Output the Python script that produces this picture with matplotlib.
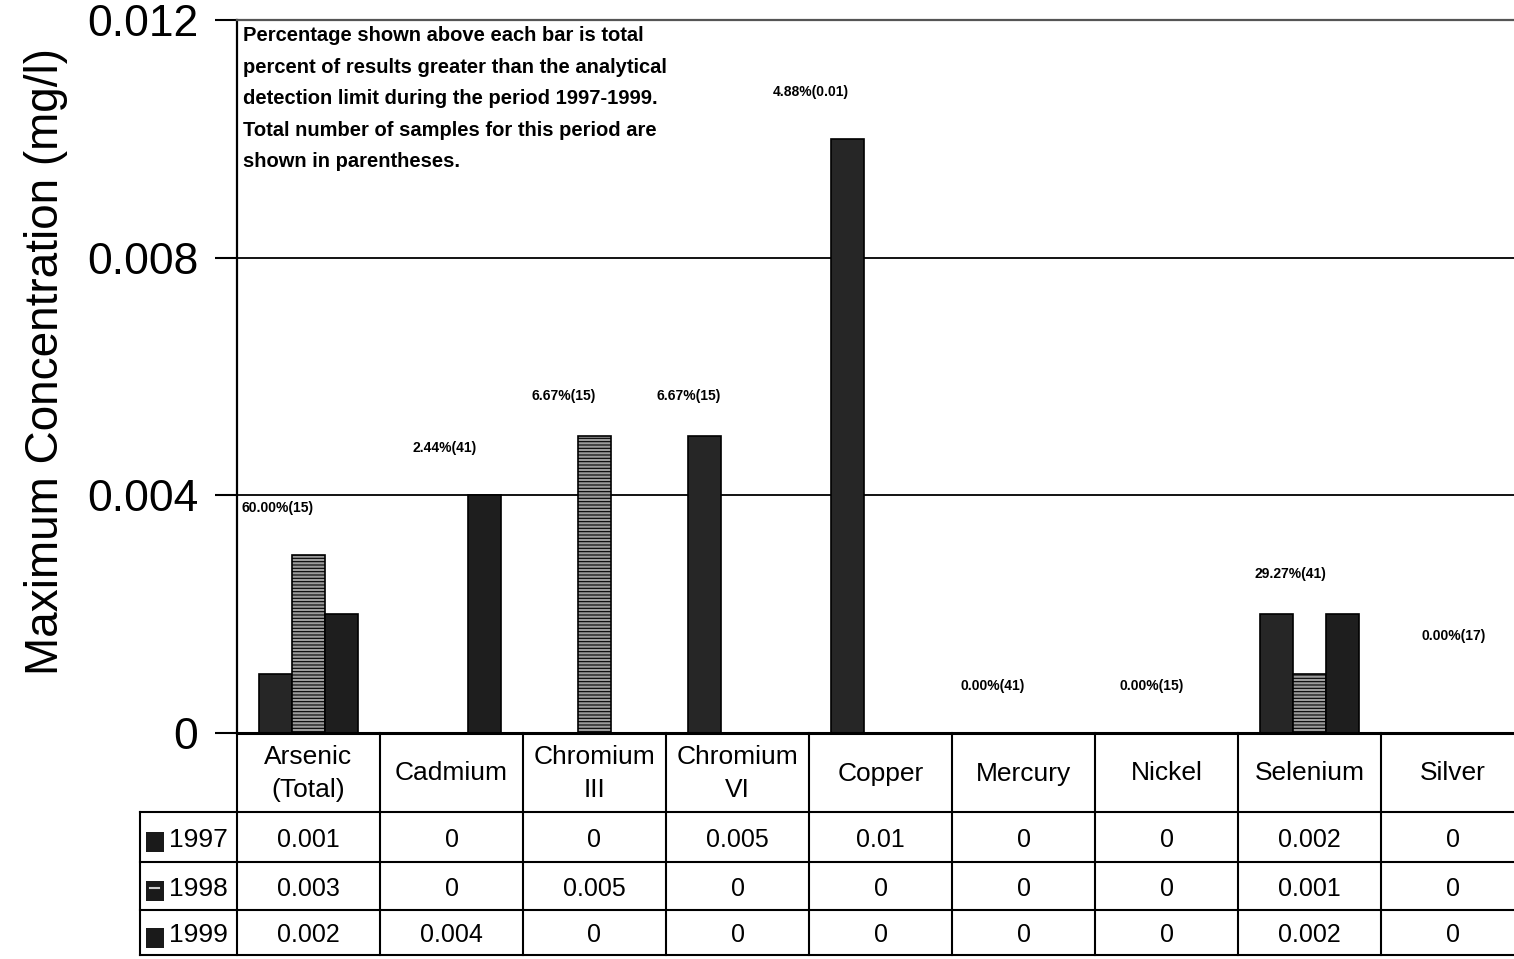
import matplotlib.pyplot as plt
from matplotlib.patches import Rectangle

plt.rcParams["font.family"] = ["Liberation Sans", "DejaVu Sans"]

metals = ["Arsenic\n(Total)", "Cadmium", "Chromium\nIII", "Chromium\nVI", "Copper",
          "Mercury", "Nickel", "Selenium", "Silver"]
years = ["1997", "1998", "1999"]
conc_1997 = [0.001, 0, 0, 0.005, 0.01, 0, 0, 0.002, 0]
conc_1998 = [0.003, 0, 0.005, 0, 0, 0, 0, 0.001, 0]
conc_1999 = [0.002, 0.004, 0, 0, 0, 0, 0, 0.002, 0]
detect_pct = ["60.00%(15)", "2.44%(41)", "6.67%(15)", "6.67%(15)", "4.88%(0.01)",
              "0.00%(41)", "0.00%(15)", "29.27%(41)", "0.00%(17)"]
cell_text = ["0.001", "0", "0", "0.005", "0.01", "0", "0", "0.002", "0",
             "0.003", "0", "0.005", "0", "0", "0", "0", "0.001", "0",
             "0.002", "0.004", "0", "0", "0", "0", "0", "0.002", "0"]

# label placement tweaks (points) for the percent captions
label_dx = [-22, -5, -22, -35, -50, -22, -11, -14, 1]
label_dy = [34, 34, 29, 29, 34, 34, 34, 29, 70]

W, H = 1514, 959
fig = plt.figure(figsize=(W / 100, H / 100), dpi=100)

col_w = 143
ax = fig.add_axes([237 / W, 1 - 733 / H, 9 * col_w / W, (733 - 20) / H])
ax.set_xlim(-0.5, 8.5)
ax.set_ylim(0, 0.012)

x = list(range(len(metals)))
bw = 0.23
series = [conc_1997, conc_1998, conc_1999]
styles = [
    dict(color="#262626", edgecolor="black"),
    dict(color="#9c9c9c", edgecolor="black", hatch="-----"),
    dict(color="#1e1e1e", edgecolor="black"),
]
plt.rcParams["hatch.color"] = "#d8d8d8"
plt.rcParams["hatch.linewidth"] = 0.8
for k, vals in enumerate(series):
    xs = [i + (k - 1) * bw for i in x]
    for xi, v in zip(xs, vals):
        if v > 0:
            ax.bar(xi, v, width=bw, linewidth=1.2, **styles[k], zorder=3)

for i, lab in enumerate(detect_pct):
    top = max(conc_1997[i], conc_1998[i], conc_1999[i])
    ax.annotate(lab, (i, top), xytext=(label_dx[i], label_dy[i]), textcoords="offset points",
                ha="center", va="center", fontsize=10, fontweight="bold")

ax.set_yticks([0, 0.004, 0.008, 0.012])
ax.set_yticklabels(["0", "0.004", "0.008", "0.012"], fontsize=32)
ax.tick_params(axis="y", direction="out", length=16, width=1.5, pad=12)
ax.set_xticks([])
ax.yaxis.grid(True, color="black", linewidth=1.3)
ax.set_axisbelow(True)
ax.spines["right"].set_visible(False)
ax.spines["bottom"].set_visible(False)
ax.spines["left"].set_linewidth(1.6)
ax.spines["top"].set_color("#555555")
ax.spines["top"].set_linewidth(1.6)

fig.text(46 / W, 1 - 675 / H, "Maximum Concentration (mg/l)", rotation=90,
         ha="center", va="bottom", fontsize=33)

note = ("Percentage shown above each bar is total\n"
        "percent of results greater than the analytical\n"
        "detection limit during the period 1997-1999.\n"
        "Total number of samples for this period are\n"
        "shown in parentheses.")
fig.text(243 / W, 1 - 26 / H, note, ha="left", va="top", fontsize=14.5,
         fontweight="bold", linespacing=1.84)

# data table under the bars
tab = fig.add_axes([237 / W, 1 - 957 / H, 9 * col_w / W, 224 / H])
tab.set_xlim(-0.5, 8.5)
tab.set_ylim(224, 0)
tab.axis("off")
row_edges = [0, 79, 129, 177, 222]
left = -0.5 - 97 / col_w
lk = dict(color="black", linewidth=1.5, clip_on=False)
tab.plot([-0.5, 8.6], [0, 0], color="black", linewidth=2.2, clip_on=False)
for r in row_edges[1:]:
    tab.plot([left, 8.6], [r, r], **lk)
tab.plot([left, left], [row_edges[1], row_edges[-1]], **lk)
for c in range(10):
    tab.plot([c - 0.5, c - 0.5], [0, row_edges[-1]], **lk)

for i, m in enumerate(metals):
    tab.text(i, (row_edges[0] + row_edges[1]) / 2 + 1, m, ha="center", va="center",
             fontsize=19, linespacing=1.45)
for r, yr in enumerate(years):
    yc = (row_edges[r + 1] + row_edges[r + 2]) / 2 + 3
    for i in range(len(metals)):
        tab.text(i, yc, cell_text[r * len(metals) + i], ha="center", va="center", fontsize=18)
    tab.add_patch(Rectangle((left + 6 / col_w, yc - 8), 18 / col_w, 20,
                            facecolor="#1a1a1a", edgecolor="none", clip_on=False))
    if r == 1:
        tab.plot([left + 10 / col_w, left + 19 / col_w], [yc - 1, yc - 1],
                 color="#cccccc", linewidth=1.5, clip_on=False)
    tab.text(left + 29 / col_w, yc, yr, ha="left", va="center", fontsize=19)

fig.savefig("out.png", dpi=100)
